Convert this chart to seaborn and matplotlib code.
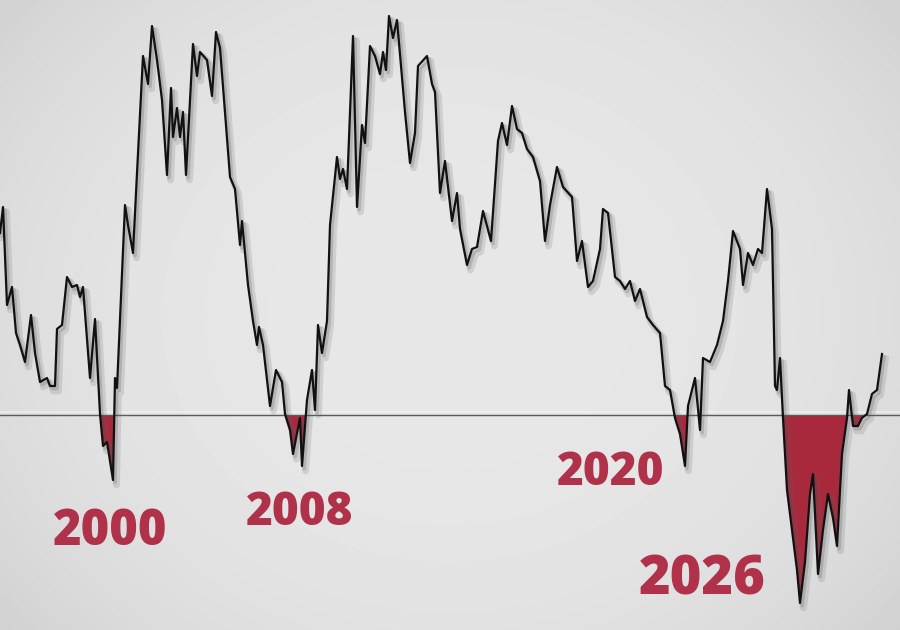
import matplotlib.pyplot as plt
import matplotlib.patheffects as pe
import seaborn as sns
import numpy as np
import pandas as pd

# position along the chart and level relative to the reference line (0)
pos = [0, 3, 7, 12, 16, 20, 25, 31, 35, 40, 47, 50, 55, 57, 62, 67, 72, 77, 80, 83,
       90, 95, 100, 103, 107, 113, 115, 117, 125, 128, 133, 137, 143, 148, 152, 157,
       162, 167, 171, 173, 177, 180, 183, 186, 193, 197, 200, 207, 212, 216, 220,
       230, 235, 240, 242, 248, 253, 257, 259, 263, 270, 276, 282, 285, 290, 293,
       300, 302, 307, 312, 315, 318, 322, 327, 330, 337, 340, 343, 347, 353, 357,
       362, 365, 370, 375, 380, 383, 386, 389, 393, 397, 405, 410, 415, 418, 427,
       432, 435, 440, 445, 452, 457, 460, 467, 472, 477, 483, 491, 498, 502, 507,
       512, 517, 522, 527, 533, 540, 545, 550, 557, 563, 572, 577, 582, 588, 593,
       600, 603, 608, 615, 620, 625, 630, 635, 640, 647, 653, 660, 665, 670, 675,
       680, 685, 688, 695, 700, 703, 710, 717, 723, 728, 733, 740, 743, 748, 753,
       758, 762, 767, 772, 775, 777, 780, 783, 787, 792, 797, 800, 805, 810, 813,
       818, 823, 828, 833, 837, 842, 847, 849, 853, 858, 862, 867, 872, 877, 882]
level = [182, 208, 110, 128, 82, 70, 53, 100, 62, 33, 37, 29, 29, 86, 90, 138, 128,
         130, 118, 128, 37, 96, 1, -31, -27, -65, 37, 27, 210, 190, 162, 242, 359,
         331, 389, 355, 315, 240, 327, 278, 307, 278, 303, 240, 371, 339, 363, 355,
         319, 383, 367, 238, 226, 170, 194, 130, 94, 70, 88, 70, 9, 45, 33, 1, -15,
         -39, -3, -51, 15, 45, 5, 90, 62, 94, 190, 258, 236, 246, 226, 379, 208,
         290, 272, 369, 359, 341, 363, 345, 399, 377, 395, 303, 252, 282, 349, 359,
         331, 323, 222, 254, 194, 222, 186, 150, 166, 168, 204, 174, 274, 292, 270,
         309, 286, 282, 266, 258, 234, 174, 210, 248, 228, 218, 154, 174, 128, 134,
         166, 206, 202, 138, 134, 126, 134, 114, 126, 98, 90, 82, 29, 25, -3, -19,
         -51, 9, 37, -15, 57, 53, 70, 94, 134, 184, 166, 130, 162, 150, 166, 162,
         226, 186, 29, 25, 57, -3, -75, -115, -155, -188, -147, -79, -59, -159,
         -115, -79, -103, -131, -39, -3, 25, -11, -11, -3, 1, 21, 25, 61]

labels = ['2000', '2008', '2020', '2026']
label_pos = [110, 300, 611, 702]
label_level = [-117, -98, -58, -165]
label_size = [35, 33, 33, 39]

df = pd.DataFrame({'pos': pos, 'level': level})

red = '#a8283c'
text_red = '#b0324a'

fig = plt.figure(figsize=(9, 6.3), dpi=100)
ax = fig.add_axes([0, 0, 1, 1])
ax.set_xlim(0, 900)
ax.set_ylim(-215, 415)

# light grey backdrop, a bit darker towards the edges
gx, gy = np.meshgrid(np.linspace(-1, 1, 300), np.linspace(-1, 1, 210))
shade = 0.905 - 0.085 * (0.6 * gx ** 2 + 0.4 * gy ** 2) ** 1.5
ax.imshow(shade, extent=[0, 900, -215, 415], aspect='auto', cmap='gray',
          vmin=0, vmax=1, zorder=0, origin='upper', interpolation='bilinear')

# red area below the reference line
ax.fill_between(df['pos'], df['level'], 0, where=df['level'] < 0,
                interpolate=True, color=red, linewidth=0, zorder=2)

ax.axhline(0, color='#5a5a5a', lw=1, zorder=3)
ax.axhline(3, color='#f2f2f2', lw=1.5, alpha=0.6, zorder=1)

sns.lineplot(data=df, x='pos', y='level', ax=ax, color='#111111', lw=1.6,
             zorder=4, sort=False,
             path_effects=[pe.SimpleLineShadow(offset=(2.5, -3.5), shadow_color='#666666',
                                               alpha=0.18, rho=1.0, linewidth=5),
                           pe.SimpleLineShadow(offset=(1.5, -2), shadow_color='#444444',
                                               alpha=0.2, rho=1.0, linewidth=2.5),
                           pe.Normal()])

for t, x, y, s in zip(labels, label_pos, label_level, label_size):
    ax.text(x, y, t, ha='center', va='center', fontsize=s, fontweight=800,
            family='Open Sans', color=text_red, zorder=5)

ax.axis('off')
fig.savefig('out.png', dpi=100)
